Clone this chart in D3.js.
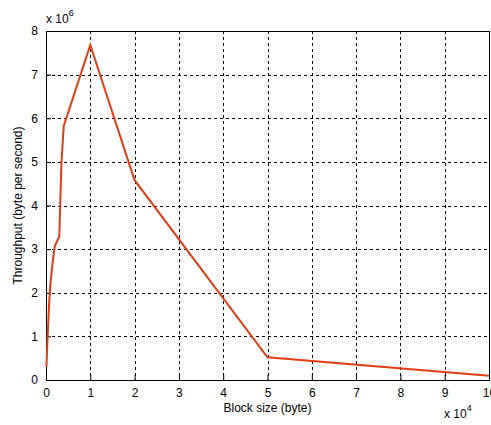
<!DOCTYPE html>
<html>
<head>
<meta charset="utf-8">
<script src="https://cdn.jsdelivr.net/npm/d3@7"></script>
<style>
  body { margin: 0; background: #fff; }
  svg { display: block; font-family: Arial, "Liberation Sans", sans-serif; }
</style>
</head>
<body>
<div class="container"></div>
<script>
// block size (byte) and throughput (byte per second)
const blockSize = [100, 300, 500, 700, 1000, 1500, 2000, 3000, 3200, 3500, 4000, 10000, 20000, 50000, 100000];
const throughput = [0.3e6, 0.85e6, 1.3e6, 1.75e6, 2.2e6, 2.7e6, 3.07e6, 3.29e6, 4.0e6, 5.0e6, 5.82e6, 7.68e6, 4.58e6, 0.52e6, 0.1e6];
const xTicks = [0, 1, 2, 3, 4, 5, 6, 7, 8, 9, 10];
const yTicks = [0, 1, 2, 3, 4, 5, 6, 7, 8];

const W = 491, H = 425;
const margin = { top: 31, right: 2, bottom: 45, left: 46 };
const width = W - margin.left - margin.right,
    height = H - margin.top - margin.bottom;

const svg = d3.select("div.container").append("svg")
    .attr("width", W)
    .attr("height", H);

const g = svg.append("g")
    .attr("transform", `translate(${margin.left},${margin.top})`);

const x = d3.scaleLinear().domain([0, 10]).range([0, width]);
const y = d3.scaleLinear().domain([0, 8]).range([height, 0]);

// dashed grid
g.append("g").selectAll("line")
    .data(xTicks.slice(1, -1))
    .enter().append("line")
    .attr("x1", d => Math.round(x(d)) + 0.5).attr("x2", d => Math.round(x(d)) + 0.5)
    .attr("y1", 0).attr("y2", height)
    .attr("stroke", "#000").attr("stroke-width", 1).attr("stroke-dasharray", "3,3");
g.append("g").selectAll("line")
    .data(yTicks.slice(1, -1))
    .enter().append("line")
    .attr("y1", d => Math.round(y(d)) + 0.5).attr("y2", d => Math.round(y(d)) + 0.5)
    .attr("x1", 0).attr("x2", width)
    .attr("stroke", "#000").attr("stroke-width", 1).attr("stroke-dasharray", "3,3");

// axes
const xAxis = g.append("g")
    .attr("transform", `translate(0,${height})`)
    .call(d3.axisBottom(x).tickValues(xTicks).tickSize(-5).tickPadding(8).tickFormat(d3.format("d")));
const yAxis = g.append("g")
    .call(d3.axisLeft(y).tickValues(yTicks).tickSize(-5).tickPadding(8).tickFormat(d3.format("d")));
[xAxis, yAxis].forEach(a => {
    a.select(".domain").remove();
    a.selectAll("text").attr("font-size", 12).attr("fill", "#000")
        .attr("font-family", "Arial, 'Liberation Sans', sans-serif");
    a.selectAll("line").attr("stroke", "#000");
});

// box
g.append("rect")
    .attr("x", 0.5).attr("y", 0.5)
    .attr("width", width).attr("height", height)
    .attr("fill", "none").attr("stroke", "#000").attr("stroke-width", 1);

// line
const data = blockSize.map((b, i) => [b / 1e4, throughput[i] / 1e6]);
g.append("path")
    .datum(data)
    .attr("fill", "none")
    .attr("stroke", "#e23c12")
    .attr("stroke-width", 2)
    .attr("stroke-linejoin", "miter")
    .attr("d", d3.line().x(d => x(d[0])).y(d => y(d[1])));

// exponent labels
const e1 = svg.append("text").attr("x", 46).attr("y", 23).attr("font-size", 12).attr("fill", "#000");
e1.append("tspan").text("x 10");
e1.append("tspan").attr("dy", -7).attr("font-size", 9).text("6");
const e2 = svg.append("text").attr("x", 444).attr("y", 418).attr("font-size", 12).attr("fill", "#000");
e2.append("tspan").text("x 10");
e2.append("tspan").attr("dy", -7).attr("font-size", 9).text("4");

// axis labels
svg.append("text")
    .attr("x", margin.left + width / 2).attr("y", 412)
    .attr("text-anchor", "middle").attr("font-size", 12).attr("fill", "#000")
    .text("Block size (byte)");
svg.append("text")
    .attr("transform", `translate(22,${margin.top + height / 2}) rotate(-90)`)
    .attr("text-anchor", "middle").attr("font-size", 12).attr("fill", "#000")
    .text("Throughput (byte per second)");
</script>
</body>
</html>
